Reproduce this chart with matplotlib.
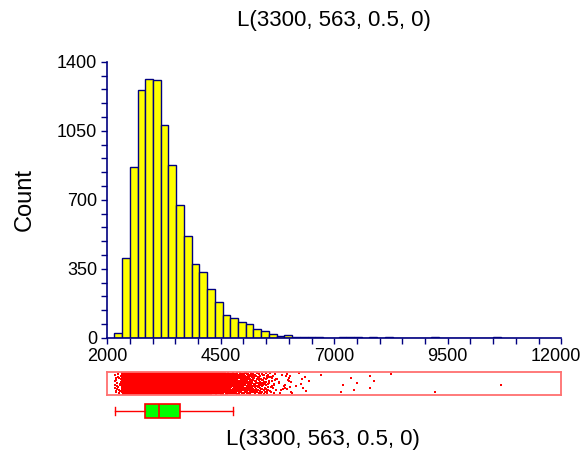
"""
Histogram with strip plot and box plot of a simulated L(3300, 563, 0.5, 0) sample.
"""

import matplotlib
matplotlib.use('Agg')
import matplotlib.pyplot as plt
import matplotlib.transforms as mtransforms
import numpy as np
from matplotlib.ticker import MultipleLocator

plt.rcParams['font.family'] = ['Liberation Sans', 'DejaVu Sans']

title = 'L(3300, 563, 0.5, 0)'

# histogram: 50 equal bins from the sample min to the sample max
bin_start = 2155
bin_width = 170.3
n_bins = 50
counts_head = [24, 403, 866, 1259, 1313, 1308, 1078, 878, 673, 514,
               375, 332, 249, 180, 117, 100, 82, 67, 42, 35,
               19, 8, 12, 3, 5]
# single observations in the long right tail
tail_values = [6443, 6707, 7148, 7199, 7361, 7441, 7507, 7786, 7786,
               7881, 8249, 9218, 10665]

# box plot summary
box_min = 2161
box_q1 = 2830
box_median = 3138
box_q3 = 3608
box_max = 4768

NAVY = '#000080'
RED = '#ff0000'


def halton(i, base):
    f, r = 1.0, 0.0
    while i > 0:
        f /= base
        r += f * (i % base)
        i //= base
    return r


edges = bin_start + bin_width * np.arange(n_bins + 1)
counts_tail, _ = np.histogram(tail_values, bins=edges[len(counts_head):])
counts = np.concatenate([counts_head, counts_tail])

fig = plt.figure(figsize=(5.84, 4.54), dpi=100)
fig.patch.set_facecolor('white')

# --- histogram ---
ax = fig.add_axes([0.1837, 0.2562, 0.7774, 0.6077])
ax.bar(edges[:-1] + 2.5, counts, width=bin_width, align='edge',
       color='#9090c0', edgecolor='none', zorder=1)
ax.bar(edges[:-1], counts, width=bin_width, align='edge',
       color='#ffff00', edgecolor=NAVY, linewidth=1.0, zorder=2)
ax.set_xlim(2000, 12000)
ax.set_ylim(0, 1400)
ax.set_xticks([2000, 4500, 7000, 9500, 12000])
ax.xaxis.set_minor_locator(MultipleLocator(500))
ax.set_yticks([0, 350, 700, 1050, 1400])
ax.yaxis.set_minor_locator(MultipleLocator(70))
for side in ['top', 'right']:
    ax.spines[side].set_visible(False)
for side in ['left', 'bottom']:
    ax.spines[side].set_color(NAVY)
    ax.spines[side].set_linewidth(1.2)
ax.tick_params(which='both', direction='out', length=4.3, width=1.0, color=NAVY,
               labelsize=13, labelcolor='black')
ax.tick_params(axis='x', which='both', pad=3)
ax.tick_params(axis='y', which='both', pad=3)
ax.set_ylabel('Count', fontsize=17, labelpad=15)
ax.set_title(title, fontsize=16, pad=26)

# keep the last x label inside the figure
fig.canvas.draw()
last = ax.get_xticklabels()[-1]
last.set_transform(last.get_transform() +
                   mtransforms.ScaledTranslation(-4 / 72, 0, fig.dpi_scale_trans))

# --- strip plot ---
ax_strip = fig.add_axes([0.1837, 0.1306, 0.7774, 0.05])
xs, ys = [], []
idx = 1
for k, c in enumerate(counts_head):
    for j in range(c):
        xs.append(edges[k] + halton(idx, 2) * bin_width)
        ys.append(0.04 + 0.92 * halton(idx, 3))
        idx += 1
for v in tail_values:
    xs.append(v)
    ys.append(0.04 + 0.92 * halton(idx, 3))
    idx += 1
ax_strip.scatter(xs, ys, s=2.0, marker='s', color=RED, linewidths=0)
ax_strip.set_xlim(2000, 12000)
ax_strip.set_ylim(0, 1)
ax_strip.set_xticks([])
ax_strip.set_yticks([])
for side in ax_strip.spines.values():
    side.set_color('#ff7070')
    side.set_linewidth(1.3)

# --- box plot ---
ax_box = fig.add_axes([0.1837, 0.0771, 0.7774, 0.0352])
stats = [{'whislo': box_min, 'q1': box_q1, 'med': box_median,
          'q3': box_q3, 'whishi': box_max, 'fliers': []}]
ax_box.bxp(stats, positions=[0], widths=0.85, capwidths=0.5,
           orientation='horizontal', patch_artist=True, showfliers=False,
           boxprops={'facecolor': '#00ff00', 'edgecolor': RED, 'linewidth': 1.2},
           medianprops={'color': RED, 'linewidth': 1.2},
           whiskerprops={'color': RED, 'linewidth': 1.0},
           capprops={'color': RED, 'linewidth': 1.0})
ax_box.set_xlim(2000, 12000)
ax_box.set_ylim(-0.5, 0.5)
ax_box.axis('off')

fig.text(0.553, 0.033, title, fontsize=16, ha='center', va='center')

fig.savefig('out.png', dpi=100)
